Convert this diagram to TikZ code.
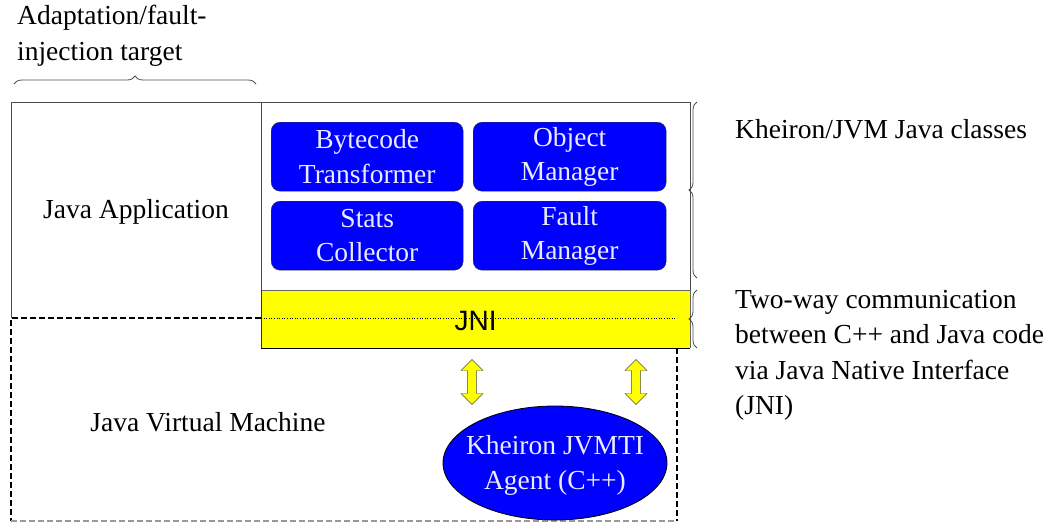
\documentclass[tikz,border=0pt]{standalone}
\usepackage{fontspec}
\setmainfont{Liberation Serif}
\newfontfamily\jnifont{Liberation Sans}
\usetikzlibrary{shapes.geometric,shapes.arrows,decorations.pathreplacing}
\definecolor{pblue}{RGB}{0,0,255}
\definecolor{ptext}{RGB}{235,235,255}
\definecolor{pyellow}{RGB}{255,255,0}
\tikzset{
  lbl/.style={font=\fontsize{27.5}{35.5}\selectfont, align=left, text=black, inner sep=0pt},
  comp/.style={draw=black!80, fill=pblue, rounded corners=9pt, text=ptext,
    font=\fontsize{27.5}{34.5}\selectfont, align=center, inner sep=0pt},
  brc/.style={draw=black!70, line width=0.8pt, decorate},
  darr/.style={double arrow, draw=black!70, fill=pyellow, rotate=90,
    minimum width=22pt, double arrow head extend=3pt, minimum height=45pt, inner sep=2pt}
}
\begin{document}
\begin{tikzpicture}[x=1pt,y=-1pt]
\useasboundingbox (0,0) rectangle (1058,523);
% Java application region
\draw[black!70, line width=1pt] (11,318) -- (11,102) -- (690,102) -- (690,290);
\draw[black!70, line width=1pt] (261,102) -- (261,290);
% JNI box
\node[fill=pyellow, draw=none, minimum width=429pt, minimum height=58pt, inner sep=0pt, anchor=north west] (jni) at (261,290) {};
\draw[black!60, line width=1pt] (jni.north west) -- (jni.north east);
\draw[black, line width=1.6pt] (jni.south west) -- (jni.south east);
\draw[black!80, line width=1pt] (jni.north west) -- (jni.south west);
\draw[black!60, line width=0.6pt] (jni.north east) -- (jni.south east);
\draw[black, dotted, line width=0.6pt] (261,318) -- (677,318);
\node[font=\jnifont\fontsize{28}{30}\selectfont] (jnil) at ([yshift=-2pt]jni.center) {JNI};
% JVM dashed region
\draw[black, dash pattern=on 6pt off 3pt, line width=1.2pt] (261,318) -- (11,318) -- (11,521);
\draw[black!40, dash pattern=on 6pt off 3pt, line width=1.2pt] (11,521) -- (677,521);
\draw[black, dash pattern=on 6pt off 3pt, line width=1.2pt] (677,348) -- (677,521);
% components
\node[comp, minimum width=192pt, minimum height=69pt, anchor=north west] (bt) at (271,122) {Bytecode\\Transformer};
\node[comp, minimum width=193pt, minimum height=69pt, anchor=north west] (om) at (473,122) {Object\\Manager};
\node[comp, minimum width=192pt, minimum height=69pt, anchor=north west] (sc) at (271,201) {Stats\\Collector};
\node[comp, minimum width=193pt, minimum height=69pt, anchor=north west] (fm) at (473,201) {Fault\\Manager};
% agent ellipse
\node[ellipse, draw=black, line width=0.8pt, fill=pblue, minimum width=224pt, minimum height=114pt, inner sep=0pt] (agent) at (555,463) {};
\node[text=ptext, font=\fontsize{27.5}{35}\selectfont, align=center, inner sep=0pt] (agentl) at ([yshift=-2pt]agent.center) {Kheiron JVMTI\\Agent (C++)};
% double arrows
\node[darr] (a1) at (472,382) {};
\node[darr] (a2) at (636,382) {};
% labels
\node[lbl, anchor=north west] (adapt) at (17,5) {Adaptation/fault-\\injection target};
\node[lbl] (japp) at (136,212) {Java Application};
\node[lbl] (jvm) at (208,422) {Java Virtual Machine};
\node[lbl, anchor=west] (kcls) at (735,129) {Kheiron/JVM Java classes};
\node[lbl, anchor=north west] (twoway) at (735,290) {Two-way communication\\between C++ and Java code\\via Java Native Interface\\(JNI)};
% braces
\draw[brc, decoration={brace, amplitude=8pt}] (14,84) -- (256,84);
\draw[brc, decoration={brace, amplitude=8pt, mirror}] (697,102) -- (697,278);
\draw[brc, decoration={brace, amplitude=8pt, mirror}] (697,290) -- (697,348);
\end{tikzpicture}
\end{document}
